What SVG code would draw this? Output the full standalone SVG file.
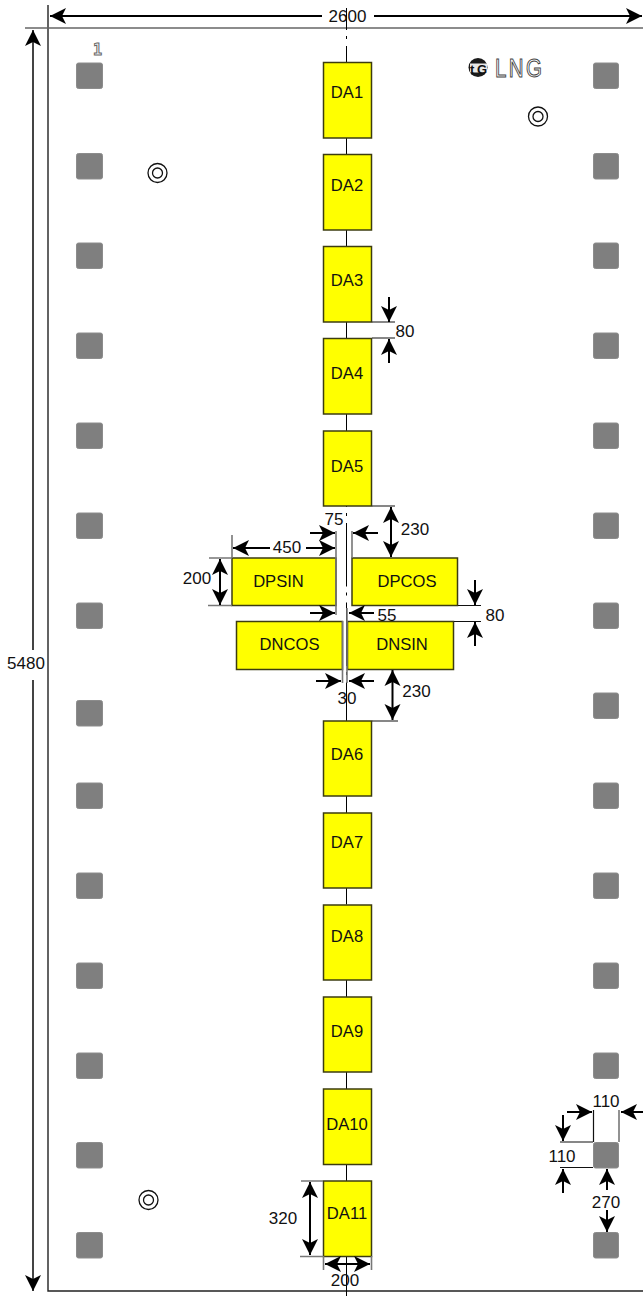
<svg xmlns="http://www.w3.org/2000/svg" width="643" height="1296" viewBox="0 0 643 1296">
<style>
text{font-family:"Liberation Sans",Arial,sans-serif;fill:#111}
.n{font-size:16.600px;text-anchor:middle}
.d{font-size:17px;text-anchor:middle}
.box{fill:#ffff00;stroke:#3c3c10;stroke-width:1.5}
.pad{fill:#7f7f7f;stroke:#8c8c8c;stroke-width:1}
.ext{fill:none;stroke:#111;stroke-width:1.2}
.gext{fill:none;stroke:#777;stroke-width:1.6}
.arr{fill:none;stroke:#000;stroke-width:2;marker-end:url(#a)}
.arr2{fill:none;stroke:#000;stroke-width:2;marker-start:url(#as);marker-end:url(#a)}
.via{fill:none;stroke:#111;stroke-width:1.3}
</style>
<defs>
<marker id="a" markerUnits="userSpaceOnUse" markerWidth="18" markerHeight="18" refX="16" refY="9" orient="auto"><path d="M0 1L16 9L0 17L4 9Z" fill="#000"/></marker>
<marker id="as" markerUnits="userSpaceOnUse" markerWidth="18" markerHeight="18" refX="2" refY="9" orient="auto"><path d="M18 1L2 9L18 17L14 9Z" fill="#000"/></marker>
</defs>
<rect width="643" height="1296" fill="#fff"/>
<g id="frame">
<path d="M48 5V1291H643" fill="none" stroke="#222" stroke-width="1.4"/>
<path d="M25 28H643" fill="none" stroke="#666" stroke-width="1.6"/>
</g>
<g id="centerline"><path d="M346.500 8V1296" fill="none" stroke="#000" stroke-width="1" stroke-dasharray="63.500 6 3 7" stroke-dashoffset="41.500"/><path d="M346.500 414V431M346.500 980V997M346.500 1072V1089" fill="none" stroke="#000" stroke-width="1"/></g>
<g id="pads">
<rect class="pad" x="76.500" y="63" width="26" height="25.500" rx="2"/><rect class="pad" x="76.500" y="153.500" width="26" height="25.500" rx="2"/><rect class="pad" x="76.500" y="243" width="26" height="25.500" rx="2"/><rect class="pad" x="76.500" y="333" width="26" height="25.500" rx="2"/><rect class="pad" x="76.500" y="423" width="26" height="25.500" rx="2"/><rect class="pad" x="76.500" y="513" width="26" height="25.500" rx="2"/><rect class="pad" x="76.500" y="603" width="26" height="25.500" rx="2"/><rect class="pad" x="76.500" y="700.500" width="26" height="25.500" rx="2"/><rect class="pad" x="76.500" y="783" width="26" height="25.500" rx="2"/><rect class="pad" x="76.500" y="873" width="26" height="25.500" rx="2"/><rect class="pad" x="76.500" y="963" width="26" height="25.500" rx="2"/><rect class="pad" x="76.500" y="1053" width="26" height="25.500" rx="2"/><rect class="pad" x="76.500" y="1142.500" width="26" height="25.500" rx="2"/><rect class="pad" x="76.500" y="1232.500" width="26" height="25.500" rx="2"/>
<rect class="pad" x="593.500" y="63" width="25" height="25.500" rx="2"/><rect class="pad" x="593.500" y="153.500" width="25" height="25.500" rx="2"/><rect class="pad" x="593.500" y="243" width="25" height="25.500" rx="2"/><rect class="pad" x="593.500" y="333" width="25" height="25.500" rx="2"/><rect class="pad" x="593.500" y="423" width="25" height="25.500" rx="2"/><rect class="pad" x="593.500" y="513" width="25" height="25.500" rx="2"/><rect class="pad" x="593.500" y="603" width="25" height="25.500" rx="2"/><rect class="pad" x="593.500" y="693" width="25" height="25.500" rx="2"/><rect class="pad" x="593.500" y="783" width="25" height="25.500" rx="2"/><rect class="pad" x="593.500" y="873" width="25" height="25.500" rx="2"/><rect class="pad" x="593.500" y="963" width="25" height="25.500" rx="2"/><rect class="pad" x="593.500" y="1053" width="25" height="25.500" rx="2"/><rect class="pad" x="593.500" y="1142.500" width="25" height="25.500" rx="2"/><rect class="pad" x="593.500" y="1232.500" width="25" height="25.500" rx="2"/>
</g>
<g id="vias">
<circle class="via" cx="157.500" cy="173" r="9.500"/><circle class="via" cx="157.500" cy="173" r="5"/>
<circle class="via" cx="538" cy="116.500" r="9.500"/><circle class="via" cx="538" cy="116.500" r="5"/>
<circle class="via" cx="148.500" cy="1200" r="9.500"/><circle class="via" cx="148.500" cy="1200" r="5"/>
</g>
<g id="marks">
<text x="97.500" y="54.500" font-size="15" font-weight="bold" text-anchor="middle" style="font-family:'DejaVu Sans Mono',monospace;fill:none;stroke:#666;stroke-width:1">1</text>
<circle cx="478" cy="67.500" r="9.500" fill="#1a1a1a"/>
<rect x="470" y="63.500" width="17" height="9" fill="#e8e8e8"/>
<text x="478.500" y="73.500" font-size="13" font-weight="bold" text-anchor="middle" textLength="17" style="fill:#111">tG</text>
<text transform="translate(495 76.500) scale(.82 1)" font-size="25" letter-spacing="3" style="fill:none;stroke:#444;stroke-width:1">LNG</text>
</g>
<g id="DA1"><rect class="box" x="323.500" y="62.500" width="48" height="75.500"/><text class="n" x="347" y="98">DA1</text></g>
<g id="DA2"><rect class="box" x="323.500" y="154.500" width="48" height="75.500"/><text class="n" x="347" y="191">DA2</text></g>
<g id="DA3"><rect class="box" x="323.500" y="246.500" width="48" height="75.500"/><text class="n" x="347" y="286">DA3</text></g>
<g id="DA4"><rect class="box" x="323.500" y="338.500" width="48" height="75.500"/><text class="n" x="347" y="379">DA4</text></g>
<g id="DA5"><rect class="box" x="323.500" y="431" width="48" height="75"/><text class="n" x="347" y="472">DA5</text></g>
<g id="DPSIN"><rect class="box" x="232" y="558" width="104" height="47.500"/><text class="n" x="278.500" y="587">DPSIN</text></g>
<g id="DPCOS"><rect class="box" x="352" y="558" width="105.500" height="47.500"/><text class="n" x="407" y="587">DPCOS</text></g>
<g id="DNCOS"><rect class="box" x="236.500" y="621.500" width="106" height="48"/><text class="n" x="289.500" y="650">DNCOS</text></g>
<g id="DNSIN"><rect class="box" x="347.500" y="621.500" width="106" height="48"/><text class="n" x="402" y="650">DNSIN</text></g>
<g id="DA6"><rect class="box" x="323.500" y="721" width="48" height="75"/><text class="n" x="347" y="760">DA6</text></g>
<g id="DA7"><rect class="box" x="323.500" y="813" width="48" height="75"/><text class="n" x="347" y="848">DA7</text></g>
<g id="DA8"><rect class="box" x="323.500" y="905" width="48" height="75"/><text class="n" x="347" y="942">DA8</text></g>
<g id="DA9"><rect class="box" x="323.500" y="997" width="48" height="75"/><text class="n" x="347" y="1037">DA9</text></g>
<g id="DA10"><rect class="box" x="323.500" y="1089" width="48" height="75.500"/><text class="n" x="347" y="1130">DA10</text></g>
<g id="DA11"><rect class="box" x="323.500" y="1181" width="48" height="75.500"/><text class="n" x="347" y="1219">DA11</text></g>
<g id="connectors">
<path class="arr" d="M322 16H50"/><path class="arr" d="M374 16H642"/>
<path d="M33 650V30" fill="none" stroke="#444" stroke-width="2" marker-end="url(#a)"/><path d="M33 680V1291" fill="none" stroke="#444" stroke-width="2" marker-end="url(#a)"/>
<path class="ext" d="M372 322H395M372 338H395"/>
<path class="arr" d="M389 297V322"/><path class="arr" d="M389 363V339"/>
<path class="ext" d="M372 506H395M372 721H398M458 605.500H481M454 621.500H481"/>
<path class="arr2" d="M391 507V557"/><path class="arr2" d="M392.500 670V720"/>
<path class="arr" d="M475 580V605"/><path class="arr" d="M475 646V622"/>
<path class="gext" d="M232 535V558M336 531V615M352 531V558M347 608V683M342.500 621V683"/>
<path class="gext" d="M209 558H232M208 605.500H232"/>
<path class="arr" d="M310 533H335"/><path class="arr" d="M378 533H353"/>
<path class="arr" d="M270 548H233"/><path class="arr" d="M306 548H335"/>
<path class="arr2" d="M220 559V605"/>
<path class="arr" d="M310 613H335"/><path class="arr" d="M374 613H349"/>
<path class="arr" d="M316 681H341"/><path class="arr" d="M374 681H349"/>
<path class="gext" d="M301 1181H323M300 1256.500H323M323.500 1256V1270M371.500 1256V1270"/>
<path class="arr2" d="M310 1182V1255"/>
<path class="arr2" d="M325 1264H370"/>
<path class="ext" d="M593.500 1110V1142M560 1142H593M560 1167.500H593"/>
<path class="gext" d="M619 1110V1142"/>
<path class="arr" d="M567 1112H592"/><path class="arr" d="M643 1112H621"/>
<path class="arr" d="M563 1115V1141"/><path class="arr" d="M563 1193V1169"/>
<path class="arr" d="M607 1190V1169"/><path class="arr" d="M607 1210V1232"/>
</g>
<g id="labels">
<text class="d" x="347.500" y="22">2600</text>
<text class="d" x="26" y="669">5480</text>
<text class="d" x="405" y="337">80</text>
<text class="d" x="334" y="525">75</text>
<text class="d" x="415" y="535">230</text>
<text class="d" x="287" y="553">450</text>
<text class="d" x="197" y="584">200</text>
<text class="d" x="387" y="621">55</text>
<text class="d" x="495" y="621">80</text>
<text class="d" x="347" y="704">30</text>
<text class="d" x="416.500" y="697">230</text>
<text class="d" x="283" y="1224">320</text>
<text class="d" x="345" y="1286">200</text>
<text class="d" x="606" y="1107">110</text>
<text class="d" x="562" y="1162">110</text>
<text class="d" x="606" y="1208">270</text>
</g>
</svg>
